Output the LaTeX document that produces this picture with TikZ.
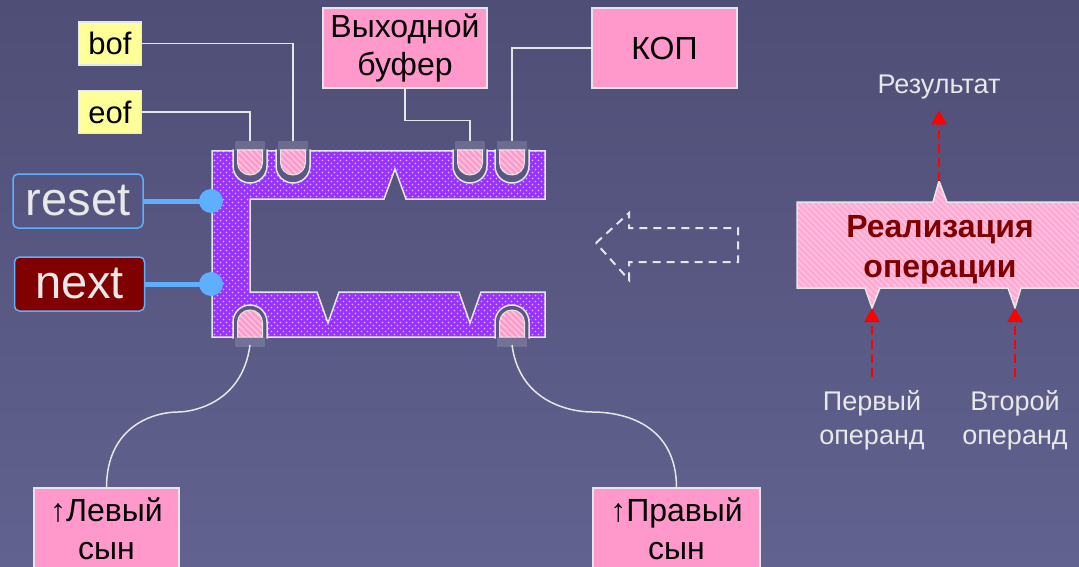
\documentclass[tikz,border=0pt]{standalone}
\usepackage{fontspec}
\setmainfont{Liberation Sans}
\usetikzlibrary{arrows.meta, patterns, positioning}
\definecolor{DiagHgOben}{RGB}{78,78,118}
\definecolor{DiagHgUnten}{RGB}{98,98,144}
\definecolor{DiagGrau}{RGB}{230,230,230}
\definecolor{DiagHell}{RGB}{232,232,232}
\definecolor{DiagRosa}{RGB}{255,153,204}
\definecolor{DiagRosaHell}{RGB}{255,200,224}
\definecolor{DiagGelb}{RGB}{255,255,153}
\definecolor{DiagLila}{RGB}{153,51,255}
\definecolor{DiagBlau}{RGB}{95,175,255}
\definecolor{DiagDunkelrot}{RGB}{128,0,0}
\definecolor{DiagSchlitz}{RGB}{88,88,128}

\pgfdeclarepatternformonly{sparsedots}{\pgfqpoint{-1pt}{-1pt}}{\pgfqpoint{7pt}{7pt}}{\pgfqpoint{6pt}{6pt}}{
    \pgfpathcircle{\pgfqpoint{1.5pt}{1.5pt}}{.9pt}
    \pgfpathcircle{\pgfqpoint{4.5pt}{4.5pt}}{.9pt}
    \pgfusepath{fill}
}
\pgfdeclarepatternformonly{pinkstripes}{\pgfqpoint{-1pt}{-1pt}}{\pgfqpoint{7pt}{7pt}}{\pgfqpoint{6pt}{6pt}}{
    \pgfsetlinewidth{1.3pt}
    \pgfpathmoveto{\pgfqpoint{-1pt}{7pt}}
    \pgfpathlineto{\pgfqpoint{7pt}{-1pt}}
    \pgfusepath{stroke}
}

\tikzset{
    pinkbox/.style={draw=DiagGrau, line width=1.5pt, fill=DiagRosa, text=black, align=center,
        font=\fontsize{32}{38}\selectfont, inner sep=0pt},
    flagbox/.style={draw=DiagGrau, line width=1.5pt, fill=DiagGelb, text=black,
        font=\fontsize{31}{34}\selectfont, minimum width=63pt, minimum height=43pt, inner sep=0pt},
    sigbox/.style={draw=DiagBlau, line width=1.5pt, rounded corners=5pt, text=DiagHell,
        font=\fontsize{47}{50}\selectfont, minimum width=130pt, minimum height=54pt, inner sep=0pt},
    wire/.style={draw=DiagGrau, line width=1.5pt},
    sigline/.style={draw=DiagBlau, line width=5pt},
    regbody/.style={preaction={fill=DiagLila}, pattern=sparsedots, pattern color=white!65!DiagLila,
        draw=DiagGrau, line width=1.5pt},
    slotring/.style={fill=DiagSchlitz, draw=DiagGrau, line width=1.5pt},
    slotfill/.style={preaction={fill=DiagRosa}, pattern=pinkstripes, pattern color=DiagRosaHell,
        draw=DiagGrau, line width=1pt},
    bubble/.style={preaction={fill=DiagRosa!85!white}, pattern=pinkstripes, pattern color=DiagRosaHell,
        draw=DiagGrau, line width=1.5pt},
    redarrow/.style={draw=red, line width=2.5pt, dash pattern=on 9pt off 5pt,
        -{Triangle[width=15pt, length=14pt]}},
    hollowarrow/.style={draw=DiagGrau, line width=2pt, dash pattern=on 8pt off 6pt},
    lbl/.style={text=DiagHell, font=\fontsize{27}{34}\selectfont, align=center, inner sep=0pt},
}

\begin{document}
\begin{tikzpicture}[x=1pt, y=-1pt]
    \useasboundingbox (0,0) rectangle (1079,567);
    \clip (0,0) rectangle (1079,567);
    \shade[top color=DiagHgOben, bottom color=DiagHgUnten] (0,0) rectangle (1079,567);

    % register body
    \path[regbody] (212,151) -- (545,151) -- (545,199) -- (406,199) -- (395,169) -- (384,199)
        -- (250,199) -- (250,292) -- (317,292) -- (328,323) -- (339,292) -- (459,292)
        -- (470,323) -- (481,292) -- (545,292) -- (545,337) -- (212,337) -- cycle;

    % slots
    \foreach \c [count=\i] in {250,293,470,512} {
        \path[slotring] (\c-17,149.5) -- (\c-17,166) arc[start angle=180, end angle=360, radius=17pt] -- (\c+17,149.5);
        \path[slotfill] (\c-12.5,150) -- (\c-12.5,162.5) arc[start angle=180, end angle=360, radius=12.5pt] -- (\c+12.5,150) -- cycle;
        \fill[white, opacity=.15] (\c-15,141) rectangle (\c+15,151);
        \coordinate (top\i) at (\c,141);
    }
    \foreach \c [count=\i] in {250,512} {
        \path[slotring] (\c-17,338.5) -- (\c-17,322) arc[start angle=180, end angle=0, radius=17pt] -- (\c+17,338.5);
        \path[slotfill] (\c-12.5,337) -- (\c-12.5,322.5) arc[start angle=180, end angle=0, radius=12.5pt] -- (\c+12.5,337) -- cycle;
        \fill[white, opacity=.15] (\c-15,337) rectangle (\c+15,347);
        \coordinate (bot\i) at (\c,345);
    }

    % reset / next
    \node[sigbox] (reset) at (78,201) {reset};
    \node[sigbox, fill=DiagDunkelrot] (next) at (79.5,284) {next};
    \coordinate (rdot) at (211,201);
    \coordinate (ndot) at (211,284);
    \draw[sigline] (reset.east) -- (rdot);
    \draw[sigline] (next.east) -- (ndot);
    \fill[DiagBlau] (rdot) circle[radius=12pt];
    \fill[DiagBlau] (ndot) circle[radius=12pt];

    % top labels
    \node[flagbox] (bof) at (110,43.5) {bof};
    \node[flagbox] (eof) at (110,112) {eof};
    \node[pinkbox, minimum width=164pt, minimum height=80pt] (buf) at (405,48) {Выходной\\буфер};
    \node[pinkbox, minimum width=145pt, minimum height=80pt] (kop) at (664.5,48) {КОП};
    \draw[wire] (bof) -| (top2);
    \draw[wire] (eof) -| (top1);
    \draw[wire] (buf.south) -- ++(0,32) -| (top3);
    \draw[wire] (kop) -| (top4);

    % sons
    \node[pinkbox, minimum width=145pt, anchor=north, inner ysep=10pt, text depth=40pt] (lson) at (106.5,487) {↑Левый\\сын};
    \node[pinkbox, minimum width=167pt, anchor=north, inner ysep=10pt, text depth=40pt] (rson) at (676.5,487) {↑Правый\\сын};
    \draw[wire] (bot1) .. controls (242,405) and (190,412) .. (178,412)
        .. controls (155,412) and (107,425) .. (lson.north);
    \draw[wire] (bot2) .. controls (520,405) and (575,412) .. (592,412)
        .. controls (625,412) and (676,425) .. (rson.north);

    % hollow arrow
    \draw[hollowarrow] (596,243) -- (629,213) -- (629,228) -- (738,228) -- (738,262)
        -- (629,262) -- (629,280) -- cycle;

    % operation
    \path[bubble] (797,202) -- (933,202) -- (939,181) -- (947,202) -- (1090,202) -- (1090,288)
        -- (1021,288) -- (1015,308) -- (1008,288) -- (880,288) -- (872,308) -- (865,288)
        -- (797,288) -- cycle;
    \node[text=DiagDunkelrot, font=\bfseries\fontsize{32}{40}\selectfont, align=center] (op) at (940,250) {Реализация\\операции};
    \coordinate (optop) at (939,181);
    \coordinate (opl) at (872,308);
    \coordinate (opr) at (1015,308);
    \node[lbl] (res) at (939,87) {Результат};
    \node[lbl] (arg1) at (872,420) {Первый\\операнд};
    \node[lbl] (arg2) at (1015,420) {Второй\\операнд};
    \draw[redarrow, shorten >=11pt] (optop) -- (res.south);
    \draw[redarrow, shorten <=13pt] (arg1) -- (opl);
    \draw[redarrow, shorten <=13pt] (arg2) -- (opr);
\end{tikzpicture}
\end{document}
